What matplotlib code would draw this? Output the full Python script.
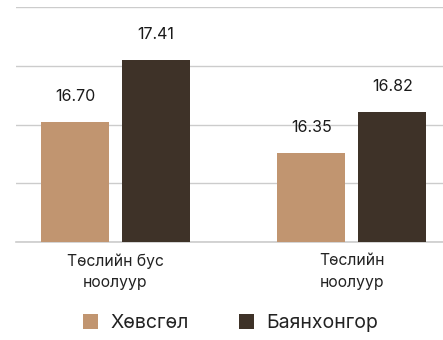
import matplotlib
matplotlib.use("Agg")
import matplotlib.pyplot as plt
from matplotlib.patches import Patch
import numpy as np

categories = ["Төслийн бус\nноолуур", "Төслийн\nноолуур"]
series_names = ["Хөвсгөл", "Баянхонгор"]
khovsgol = [16.70, 16.35]
bayankhongor = [17.41, 16.82]
colors = ["#C19570", "#3E3228"]

plt.rcParams["font.family"] = ["Inter", "DejaVu Sans"]

fig = plt.figure(figsize=(4.43, 3.40), dpi=100)
ax = fig.add_axes([0.0354, 0.288, 0.9646, 0.6905])

x = np.arange(len(categories))
width = 0.288
offset = 0.1715
ymin, ymax = 15.35, 18.0

for vals, name, col, dx in [(khovsgol, series_names[0], colors[0], -offset),
                            (bayankhongor, series_names[1], colors[1], offset)]:
    bars = ax.bar(x + dx, np.array(vals) - ymin, width=width, bottom=ymin,
                  color=col, label=name, zorder=3)
    for b, v in zip(bars, vals):
        ax.annotate(f"{v:.2f}", (b.get_x() + b.get_width() / 2, v),
                    xytext=(0, 13), textcoords="offset points",
                    ha="center", va="bottom", fontsize=11.5, color="#1a1a1a")

ax.set_ylim(ymin, ymax)
ax.set_xlim(-0.4225, 1.3865)
ax.set_yticks(np.linspace(ymin, ymax, 5))
ax.yaxis.grid(True, color="#CCCCCC", linewidth=1.0, zorder=0)
ax.set_axisbelow(True)
ax.tick_params(axis="y", length=0, labelleft=False)
ax.tick_params(axis="x", length=0, pad=8)
ax.set_xticks(x)
ax.set_xticklabels(categories, fontsize=11.3, color="#222222", linespacing=1.55)
for s in ["top", "right", "left"]:
    ax.spines[s].set_visible(False)
ax.spines["bottom"].set_color("#CCCCCC")
ax.spines["bottom"].set_linewidth(1.2)

handles = [Patch(facecolor=c, edgecolor="none") for c in colors]
fig.legend(handles, series_names, loc="center", bbox_to_anchor=(0.52, 0.05),
           ncol=2, frameon=False, fontsize=14, handlelength=0.8,
           handleheight=0.8, handletextpad=0.6, columnspacing=2.6,
           labelcolor="#222222")

fig.savefig("out.png", dpi=100)
